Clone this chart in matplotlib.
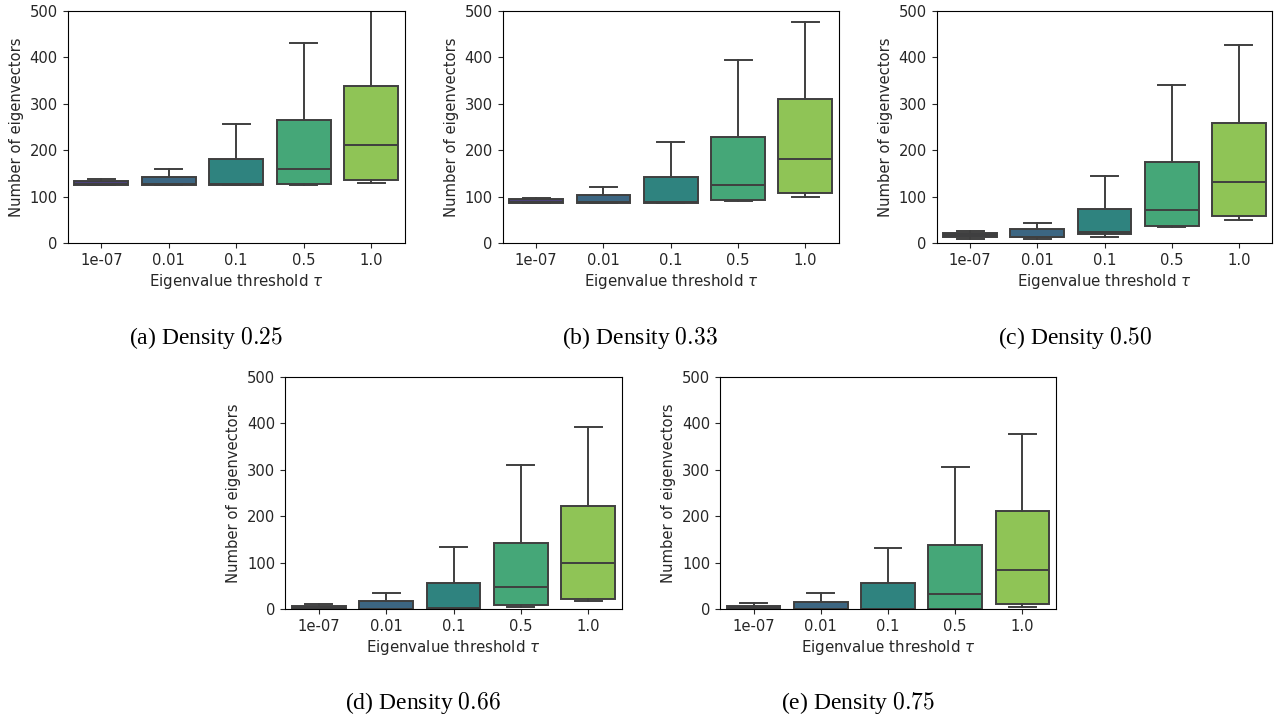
import matplotlib
matplotlib.use("Agg")
import matplotlib.pyplot as plt
import matplotlib.colors as mcolors
import colorsys
import numpy as np

thresholds = ["1e-07", "0.01", "0.1", "0.5", "1.0"]
densities = ["0.25", "0.33", "0.50", "0.66", "0.75"]
letters = ["a", "b", "c", "d", "e"]

# per density: lower whisker, q1, median, q3, upper whisker (one value per threshold)
whislo = [
    [126, 126, 126, 125, 129],
    [86, 86, 86, 90, 100],
    [9, 9, 14, 34, 49],
    [0, 0, 0, 3.6, 16.5],
    [0, 0, 0, 0, 3.6],
]
q1 = [
    [125.5, 125.5, 125.5, 127, 135.6],
    [85.4, 85.4, 85.4, 92, 107],
    [13, 13, 19.4, 37, 59],
    [0, 0, 0, 8.6, 22],
    [0, 0, 0, 0, 11.5],
]
med = [
    [128, 127, 127, 159, 211],
    [88, 88, 88, 124, 181],
    [17, 14, 23, 71, 132],
    [3, 1, 3, 46.7, 98.4],
    [2, 1, 1, 33, 85],
]
q3 = [
    [132.7, 142, 181.5, 265, 338],
    [94, 103.3, 141.3, 229, 310],
    [21.5, 30, 74, 175, 258],
    [6, 16.5, 57, 143, 222.7],
    [5.7, 15, 55, 138.6, 212],
]
whishi = [
    [137.7, 160, 256, 430, 540],
    [98, 120, 218, 395, 475.6],
    [25, 43, 145, 341, 427.5],
    [10, 34, 133, 311, 391.5],
    [12, 34, 131, 305, 378],
]


def desaturate(c, prop=0.75):
    h, l, s = colorsys.rgb_to_hls(*mcolors.to_rgb(c))
    return colorsys.hls_to_rgb(h, l, s * prop)


cmap = plt.get_cmap("viridis")
box_colors = [desaturate(cmap(v)) for v in np.linspace(0, 1, 7)[1:-1]]
line_color = "#3f3f3f"

fig = plt.figure(figsize=(12.74, 7.19), dpi=100)
W, H = 1274, 719

# axes boxes in pixel coords: left, top, right, bottom
rects = [
    (67.5, 11, 405, 243),
    (502.5, 11, 839, 243),
    (936.5, 11, 1272.5, 243),
    (285, 377, 622, 609),
    (720, 377, 1056, 609),
]
caption_pos = [(206, 338), (640, 338), (1075, 338), (423, 703), (858, 703)]

for k in range(5):
    l, t, r, b = rects[k]
    ax = fig.add_axes([l / W, 1 - b / H, (r - l) / W, (b - t) / H])
    stats = []
    for j in range(5):
        stats.append(dict(whislo=whislo[k][j], q1=q1[k][j], med=med[k][j],
                          q3=q3[k][j], whishi=whishi[k][j], fliers=[]))
    parts = ax.bxp(stats, positions=range(5), widths=0.8, patch_artist=True,
                   showfliers=False,
                   boxprops=dict(edgecolor=line_color, linewidth=1.4),
                   medianprops=dict(color=line_color, linewidth=1.4),
                   whiskerprops=dict(color=line_color, linewidth=1.4),
                   capprops=dict(color=line_color, linewidth=1.4))
    for patch, c in zip(parts["boxes"], box_colors):
        patch.set_facecolor(c)
    ax.set_xlim(-0.5, 4.5)
    ax.set_ylim(0, 500)
    ax.set_xticks(range(5))
    ax.set_xticklabels(thresholds)
    ax.set_yticks([0, 100, 200, 300, 400, 500])
    ax.tick_params(labelsize=10.6, colors="#262626", labelcolor="#262626")
    ax.set_xlabel("Eigenvalue threshold $\\tau$", fontsize=10.8, labelpad=3,
                  color="#262626", math_fontfamily="dejavusans")
    ax.set_ylabel("Number of eigenvectors", fontsize=10.6, color="#262626")
    cx, cy = caption_pos[k]
    fig.text(cx / W, 1 - cy / H, f"({letters[k]}) Density ${densities[k]}$",
             ha="center", va="center", fontsize=17, family="Liberation Serif",
             math_fontfamily="cm")

fig.savefig("out.png", dpi=100)
